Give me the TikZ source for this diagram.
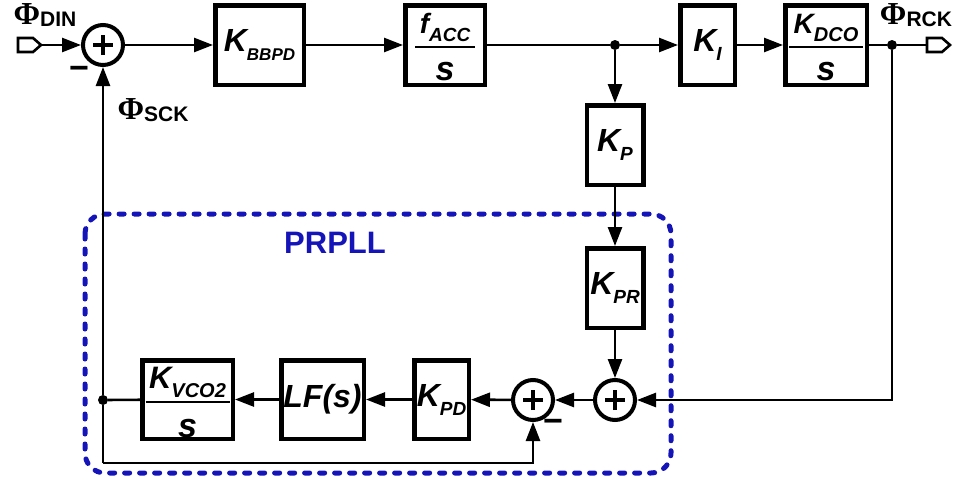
\documentclass[tikz,border=0pt]{standalone}
\usepackage{fontspec}
\setmainfont{Liberation Sans}
\newfontfamily\phifont{Liberation Serif}
\usetikzlibrary{arrows.meta}
\definecolor{prpllblue}{RGB}{20,20,185}
\newcommand{\fs}[1]{\fontsize{#1}{#1}\selectfont}
\newcommand{\Ksub}[3]{{\fs{#1}K}\raisebox{-9pt}{\fs{#2}#3}}
\newcommand{\Phisub}[1]{{\phifont\bfseries\fs{32}Φ}\raisebox{-2pt}{\bfseries\fs{21}#1}}
\begin{document}
\begin{tikzpicture}[x=1pt,y=-1pt,
  conn/.style={line width=2.6pt},
  arr/.style={conn,-{Triangle[length=19pt,width=14pt]}},
  blk/.style={draw,line width=4.5pt,inner sep=0pt,font=\bfseries\itshape},
  fractext/.style={inner sep=0pt,anchor=base,font=\bfseries\itshape},
  sumnode/.style={circle,draw,line width=4pt,minimum size=40pt,inner sep=0pt,
    path picture={\draw[line width=3.6pt]
      ([xshift=-10pt]path picture bounding box.center) -- ([xshift=10pt]path picture bounding box.center)
      ([yshift=-10pt]path picture bounding box.center) -- ([yshift=10pt]path picture bounding box.center);}},
  dot/.style={circle,fill,inner sep=0pt,minimum size=10pt},
  port/.style={line width=2.6pt,line join=miter},
  minus/.style={inner sep=0pt,font=\bfseries\fs{34}},
  philabel/.style={inner sep=0pt},
  dashbox/.style={draw=prpllblue,line width=5pt,line cap=round,dash pattern=on 5pt off 10pt,rounded corners=20pt},
  prplltext/.style={text=prpllblue,font=\bfseries\fs{31},inner sep=0pt}
]
\useasboundingbox (0,0) rectangle (961,479);

% dashed PRPLL region
\draw[dashbox] (85,214) rectangle (671,473);
\node[prplltext] (prpll) at (335,243) {PRPLL};

% ports
\draw[port] (18,38) -- (33,38) -- (41,45) -- (33,52) -- (18,52) -- cycle;
\coordinate (pin) at (41,45);
\draw[port] (927,38) -- (942,38) -- (950,45) -- (942,52) -- (927,52) -- cycle;
\coordinate (pout) at (927,45);

% top row
\node[sumnode] (s1) at (103,45) {};
\node[blk,minimum width=88.5pt,minimum height=79.5pt] (bbpd) at (259.5,45) {\Ksub{32}{17}{BBPD}};
\node[blk,minimum width=79.5pt,minimum height=79.5pt] (facc) at (445,45) {};
\node[fractext] (faccnum) at (445,33) {{\fs{28}f}\raisebox{-9pt}{\fs{19}ACC}};
\node[fractext] (faccden) at (445,80) {\fs{34}s};
\draw[line width=2pt] (facc.center) ++(-30,2) -- ++(60,0);
\node[dot] (j1) at (615,45) {};
\node[blk,minimum width=54.5pt,minimum height=79.5pt] (ki) at (707.5,45) {\Ksub{32}{19}{I}};
\node[blk,minimum width=81.5pt,minimum height=79.5pt] (kdco) at (826,45) {};
\node[fractext] (kdconum) at (826,33) {{\fs{28}K}\raisebox{-9pt}{\fs{20}DCO}};
\node[fractext] (kdcoden) at (826,80) {\fs{34}s};
\draw[line width=2pt] (kdco.center) ++(-37,2) -- ++(74,0);
\node[dot] (j2) at (892,45) {};

% vertical chain
\node[blk,minimum width=56.5pt,minimum height=79.5pt] (kp) at (615,145) {\Ksub{32}{19}{P}};
\node[blk,minimum width=56.5pt,minimum height=79.5pt] (kpr) at (615,288) {\Ksub{32}{19}{PR}};

% bottom row
\node[sumnode] (s3) at (615,400) {};
\node[sumnode] (s2) at (533,400) {};
\node[blk,minimum width=54.5pt,minimum height=78.5pt] (kpd) at (441.5,399.5) {\Ksub{32}{19}{PD}};
\node[blk,minimum width=82.5pt,minimum height=78.5pt] (lf) at (322.5,399.5) {\fs{32}LF(s)};
\node[blk,minimum width=90.5pt,minimum height=78.5pt] (kvco) at (187.5,399.5) {};
\node[fractext] (kvconum) at (187.5,388) {{\fs{31}K}\raisebox{-9pt}{\fs{20}VCO2}};
\node[fractext] (kvcoden) at (187.5,437) {\fs{34}s};
\draw[line width=2pt] (kvco.center) ++(-42,2.5) -- ++(84,0);
\node[dot] (j3) at (103,400) {};
\coordinate (c1) at (103,463);

% labels
\node[philabel] (phidin) at (45,15) {\Phisub{DIN}};
\node[philabel] (phisck) at (153,110) {\Phisub{SCK}};
\node[philabel] (phirck) at (916,15) {\Phisub{RCK}};
\node[minus] (m1) at (79,73) {−};
\node[minus] (m2) at (553,426) {−};

% connectors
\draw[arr] (pin) -- (s1);
\draw[arr] (s1) -- (bbpd);
\draw[arr] (bbpd) -- (facc);
\draw[conn] (facc) -- (j1);
\draw[arr] (j1) -- (ki);
\draw[arr] (ki) -- (kdco);
\draw[conn] (kdco) -- (j2);
\draw[conn] (j2) -- (pout);
\draw[arr] (j1) -- (kp);
\draw[arr] (kp) -- (kpr);
\draw[arr] (kpr) -- (s3);
\draw[arr] (j2) |- (s3);
\draw[arr] (s3) -- (s2);
\draw[arr] (s2) -- (kpd);
\draw[arr] (kpd) -- (lf);
\draw[arr] (lf) -- (kvco);
\draw[conn] (kvco) -- (j3);
\draw[conn] (c1) -- (j3);
\draw[arr] (j3) -- (s1);
\draw[arr] (c1) -| (s2);
\end{tikzpicture}
\end{document}
